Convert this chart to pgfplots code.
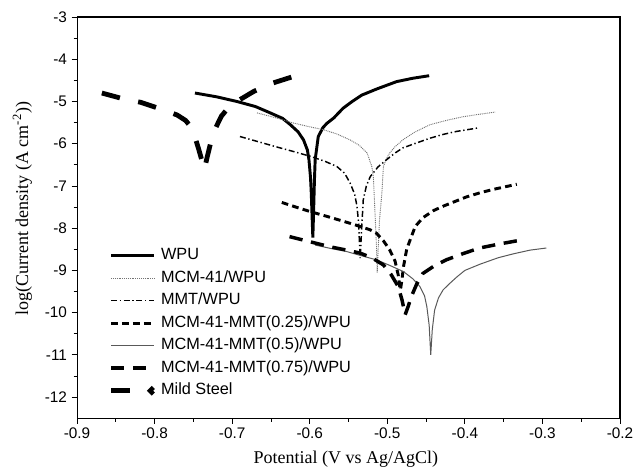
\documentclass[border=0pt]{standalone}
\usepackage{pgfplots}
\pgfplotsset{compat=1.18}
\usepackage{fontspec}
\setmainfont{Liberation Sans}
\newfontfamily\seriffont{Liberation Serif}

\begin{document}
\begin{tikzpicture}
\begin{axis}[
  name=ax,
  scale only axis,
  width=407pt, height=300.75pt,
  xmin=-0.9, xmax=-0.2, ymin=-12.5, ymax=-3,
  xtick={-0.9,-0.8,-0.7,-0.6,-0.5,-0.4,-0.3,-0.2},
  ytick={-12,-11,-10,-9,-8,-7,-6,-5,-4,-3},
  minor x tick num=1, minor y tick num=1,
  xtick pos=left, ytick pos=left,
  tick align=outside,
  major tick length=4pt, minor tick length=2.5pt,
  tick style={black, line width=0.6pt},
  axis line style={line width=0.8pt},
  /pgf/number format/assume math mode=true,
  xticklabel style={font=\fontsize{11.5}{12}\selectfont, /pgf/number format/fixed, /pgf/number format/precision=1, /pgf/number format/fixed zerofill},
  yticklabel style={font=\fontsize{11.5}{12}\selectfont},
  xlabel={Potential (V vs Ag/AgCl)},
  ylabel={log(Current density (A cm\textsuperscript{-2}))},
  xlabel style={font=\seriffont\fontsize{13.5}{14}\selectfont, at={(axis description cs:0.495,-0.113)}, anchor=base, inner sep=0pt},
  ylabel style={font=\seriffont\fontsize{13.5}{14}\selectfont, at={(axis description cs:-0.1005,0.522)}, anchor=center, inner sep=0pt},
  legend cell align=left,
  legend style={at={(axis description cs:0.0577,0.237)}, anchor=west, draw=none, fill=none, inner sep=0pt,
    font=\fontsize{12.2}{13}\selectfont, row sep=0pt,
    nodes={text height=8.6pt, text depth=2.6pt, inner ysep=2.85pt, inner xsep=0pt}},
  legend image code/.code={\draw[#1] (0pt,0pt) -- (32.5pt,0pt);},
  every axis legend/.append style={column sep=3.75pt},
]
% WPU
\addplot[black, line width=2.2pt] coordinates {
(-0.748,-4.80) (-0.720,-4.89) (-0.694,-5.00) (-0.670,-5.12) (-0.651,-5.27)
(-0.635,-5.40) (-0.625,-5.55) (-0.615,-5.72) (-0.608,-5.91) (-0.603,-6.15)
(-0.601,-6.38) (-0.599,-6.80) (-0.598,-7.17) (-0.597,-7.70) (-0.596,-8.22)
(-0.595,-7.60) (-0.594,-6.90) (-0.593,-6.38) (-0.589,-5.83) (-0.583,-5.62)
(-0.578,-5.52) (-0.569,-5.39) (-0.557,-5.16) (-0.546,-5.01) (-0.533,-4.85)
(-0.513,-4.70) (-0.488,-4.53) (-0.467,-4.45) (-0.446,-4.39)
};
\addlegendentry{WPU}
% MCM-41/WPU
\addplot[black!55, line width=0.7pt, dash pattern=on 0.7pt off 0.7pt] coordinates {
(-0.668,-5.27) (-0.645,-5.38) (-0.621,-5.51) (-0.600,-5.60) (-0.582,-5.67)
(-0.565,-5.77) (-0.548,-5.91) (-0.536,-6.04) (-0.526,-6.22) (-0.520,-6.54)
(-0.518,-6.78) (-0.516,-7.57) (-0.514,-8.40) (-0.513,-9.05) (-0.5115,-8.40)
(-0.510,-7.80) (-0.507,-7.17) (-0.505,-6.54) (-0.501,-6.35) (-0.497,-6.22)
(-0.490,-6.07) (-0.480,-5.91) (-0.465,-5.73) (-0.445,-5.55) (-0.422,-5.44)
(-0.402,-5.36) (-0.380,-5.30) (-0.361,-5.25)
};
\addlegendentry{MCM-41/WPU}
% MMT/WPU
\addplot[black, line width=1.1pt, dash pattern=on 4.5pt off 2pt on 1pt off 2pt] coordinates {
(-0.690,-5.83) (-0.665,-5.96) (-0.642,-6.08) (-0.620,-6.19) (-0.599,-6.30)
(-0.580,-6.42) (-0.565,-6.54) (-0.555,-6.70) (-0.548,-6.93) (-0.542,-7.20)
(-0.539,-7.49) (-0.537,-7.88) (-0.535,-8.71) (-0.533,-8.00) (-0.531,-7.33)
(-0.527,-7.00) (-0.522,-6.78) (-0.512,-6.55) (-0.501,-6.38) (-0.490,-6.22)
(-0.480,-6.10) (-0.462,-5.98) (-0.445,-5.87) (-0.428,-5.78) (-0.411,-5.71)
(-0.384,-5.63)
};
\addlegendentry{MMT/WPU}
% MCM-41-MMT(0.25)/WPU
\addplot[black, line width=2.2pt, dash pattern=on 5pt off 3.2pt] coordinates {
(-0.636,-7.39) (-0.618,-7.50) (-0.599,-7.61) (-0.578,-7.72) (-0.556,-7.84)
(-0.540,-7.93) (-0.522,-8.04) (-0.514,-8.12) (-0.505,-8.30) (-0.497,-8.51)
(-0.490,-8.78) (-0.486,-9.10) (-0.484,-9.38) (-0.483,-9.46) (-0.481,-9.20)
(-0.479,-8.90) (-0.475,-8.50) (-0.471,-8.30) (-0.464,-7.96) (-0.454,-7.75)
(-0.440,-7.58) (-0.428,-7.48) (-0.413,-7.37) (-0.398,-7.26) (-0.380,-7.16)
(-0.363,-7.08) (-0.333,-6.96)
};
\addlegendentry{MCM-41-MMT(0.25)/WPU}
% MCM-41-MMT(0.5)/WPU
\addplot[black!65, line width=0.75pt] coordinates {
(-0.593,-8.40) (-0.573,-8.48) (-0.553,-8.55) (-0.534,-8.65) (-0.514,-8.75)
(-0.497,-8.88) (-0.479,-9.03) (-0.467,-9.20) (-0.458,-9.38) (-0.452,-9.60)
(-0.449,-9.86) (-0.446,-10.30) (-0.444,-11.00) (-0.442,-10.40) (-0.439,-9.94)
(-0.434,-9.65) (-0.428,-9.46) (-0.419,-9.30) (-0.410,-9.15) (-0.400,-9.00)
(-0.380,-8.85) (-0.357,-8.70) (-0.338,-8.61) (-0.316,-8.52) (-0.295,-8.47)
};
\addlegendentry{MCM-41-MMT(0.5)/WPU}
% MCM-41-MMT(0.75)/WPU
\addplot[black, line width=2.6pt, dash pattern=on 10pt off 6.5pt] coordinates {
(-0.626,-8.20) (-0.600,-8.32) (-0.574,-8.44) (-0.555,-8.51) (-0.535,-8.59)
(-0.520,-8.70) (-0.505,-8.87) (-0.495,-9.10) (-0.486,-9.38) (-0.481,-9.70)
(-0.477,-10.05) (-0.473,-9.85) (-0.469,-9.62) (-0.462,-9.32) (-0.454,-9.07)
(-0.440,-8.90) (-0.424,-8.75) (-0.402,-8.60) (-0.381,-8.47) (-0.357,-8.38)
(-0.333,-8.30)
};
\addlegendentry{MCM-41-MMT(0.75)/WPU}
% Mild Steel
\addplot[black, line width=3.6pt, dash pattern=on 14pt off 14pt,
  legend image code/.code={\draw[line width=3.6pt] (0pt,0pt) -- (16pt,0pt); \fill[black] (30.5pt,0pt) circle[radius=1.1pt];}] coordinates {
(-0.868,-4.80) (-0.844,-4.92) (-0.818,-5.02) (-0.795,-5.16) (-0.771,-5.32)
(-0.760,-5.45) (-0.752,-5.63) (-0.747,-5.90) (-0.743,-6.14) (-0.739,-6.40)
(-0.736,-6.62) (-0.732,-6.30) (-0.728,-6.00) (-0.724,-5.73) (-0.714,-5.35)
(-0.705,-5.15) (-0.694,-5.00) (-0.672,-4.76) (-0.647,-4.56) (-0.623,-4.42)
};
\addlegendentry{Mild Steel}
\end{axis}
\pgfresetboundingbox
\path[use as bounding box] ([shift={(-57.75pt,-36pt)}]ax.south west) rectangle ([shift={(10.5pt,12.75pt)}]ax.north east);
\end{tikzpicture}
\end{document}
